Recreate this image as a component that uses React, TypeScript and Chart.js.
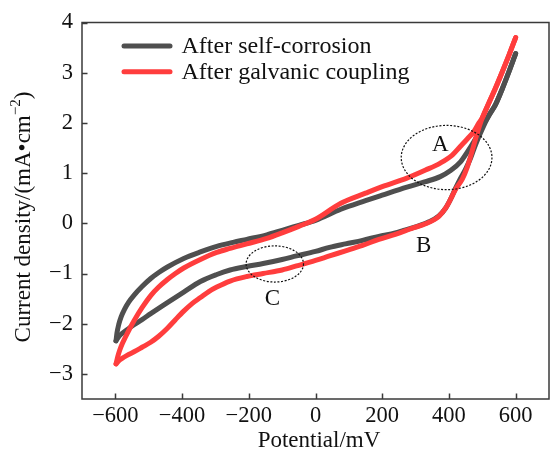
import React, { useEffect, useRef } from "react";
import { Chart, registerables } from "chart.js";

Chart.register(...registerables);

// After self-corrosion: upper branch and lower branch, potential mV -> current density mA/cm2
const selfUpperX = [-598, -595, -590, -583, -573, -560, -545, -520, -494, -470, -444, -395, -345, -296, -247, -206, -146, -100, -50, 0, 76, 150, 200, 274, 330, 374, 405, 434, 455, 475, 500, 520, 540, 560, 580, 600];
const selfUpperY = [-2.34, -2.18, -2.02, -1.87, -1.72, -1.57, -1.44, -1.26, -1.1, -0.98, -0.87, -0.7, -0.57, -0.46, -0.38, -0.32, -0.23, -0.14, -0.04, 0.06, 0.28, 0.45, 0.56, 0.72, 0.83, 0.93, 1.05, 1.22, 1.42, 1.63, 1.93, 2.15, 2.37, 2.68, 3.02, 3.38];
const selfLowerX = [-598, -592, -583, -565, -544, -520, -494, -444, -395, -345, -296, -256, -206, -157, -100, -57, 0, 42, 90, 141, 190, 239, 260, 300, 340, 370, 390, 405, 420, 435, 450, 465, 480, 500, 520, 540, 560, 580, 600];
const selfLowerY = [-2.34, -2.28, -2.21, -2.12, -2.02, -1.92, -1.8, -1.58, -1.37, -1.16, -1.02, -0.93, -0.86, -0.8, -0.72, -0.65, -0.56, -0.48, -0.41, -0.34, -0.26, -0.19, -0.15, -0.07, 0.03, 0.15, 0.3, 0.48, 0.7, 0.9, 1.08, 1.3, 1.57, 1.88, 2.15, 2.37, 2.68, 3.02, 3.38];

// After galvanic coupling
const galvUpperX = [-598, -593, -587, -580, -570, -558, -544, -520, -494, -470, -444, -420, -395, -345, -296, -256, -206, -146, -100, -50, 0, 76, 150, 200, 274, 330, 374, 410, 434, 455, 475, 490, 500, 520, 540, 560, 580, 600];
const galvUpperY = [-2.8, -2.66, -2.53, -2.41, -2.27, -2.11, -1.94, -1.68, -1.44, -1.27, -1.12, -1.0, -0.89, -0.72, -0.58, -0.5, -0.41, -0.3, -0.19, -0.06, 0.08, 0.4, 0.6, 0.73, 0.9, 1.06, 1.2, 1.36, 1.53, 1.68, 1.83, 2.0, 2.1, 2.4, 2.7, 3.02, 3.35, 3.7];
const galvLowerX = [-598, -590, -580, -565, -544, -520, -494, -470, -444, -420, -395, -370, -345, -320, -296, -256, -206, -157, -100, -57, 0, 42, 90, 141, 190, 239, 289, 330, 370, 390, 405, 420, 440, 455, 470, 485, 500, 520, 540, 560, 580, 600];
const galvLowerY = [-2.8, -2.74, -2.69, -2.63, -2.56, -2.47, -2.37, -2.25, -2.09, -1.92, -1.75, -1.6, -1.48, -1.36, -1.27, -1.15, -1.06, -1.0, -0.93, -0.85, -0.74, -0.65, -0.55, -0.44, -0.32, -0.22, -0.1, -0.01, 0.14, 0.3, 0.48, 0.68, 0.88, 1.12, 1.45, 1.8, 2.1, 2.4, 2.7, 3.02, 3.35, 3.7];

const seriesNames = ["After self-corrosion", "After galvanic coupling"];
const seriesColors = ["#4f4f4f", "#ff3d3d"];
const xTicks = [-600, -400, -200, 0, 200, 400, 600];
const yTicks = [-3, -2, -1, 0, 1, 2, 3, 4];
const xTitle = "Potential/mV";
const yTitleMain = "Current density/(mA•cm";
const yTitleSup = "−2";
const yTitleEnd = ")";

// Annotations: [cx, cy, rx, ry] in data units; labels [text, x, y]
const ellipses = [
  [393, 1.31, 136, 0.64],
  [-122, -0.81, 86, 0.36],
];
const pointLabels: [string, number, number][] = [
  ["A", 374, 1.57],
  ["B", 324, -0.45],
  ["C", -129, -1.51],
];

const FONT = "'Liberation Serif', 'Times New Roman', serif";

const decoPlugin = {
  id: "deco",
  afterDatasetsDraw(chart: any) {
    const { ctx, chartArea: a, scales } = chart;
    const xs = scales.x;
    const ys = scales.y;
    ctx.save();
    ctx.strokeStyle = "#3a3a3a";
    ctx.lineWidth = 1.5;
    ctx.strokeRect(a.left, a.top, a.right - a.left, a.bottom - a.top);
    ctx.beginPath();
    xTicks.forEach((v) => {
      const px = Math.round(xs.getPixelForValue(v)) + 0.5;
      ctx.moveTo(px, a.bottom);
      ctx.lineTo(px, a.bottom - 5.5);
    });
    yTicks.forEach((v) => {
      const py = Math.round(ys.getPixelForValue(v)) + 0.5;
      ctx.moveTo(a.left, py);
      ctx.lineTo(a.left + 5.5, py);
    });
    ctx.stroke();
    ctx.strokeStyle = "#111";
    ctx.lineWidth = 1.2;
    ctx.setLineDash([2, 1.6]);
    ellipses.forEach(([cx, cy, rx, ry]) => {
      const px = xs.getPixelForValue(cx);
      const py = ys.getPixelForValue(cy);
      const prx = Math.abs(xs.getPixelForValue(cx + rx) - px);
      const pry = Math.abs(ys.getPixelForValue(cy + ry) - py);
      ctx.beginPath();
      ctx.ellipse(px, py, prx, pry, 0, 0, Math.PI * 2);
      ctx.stroke();
    });
    ctx.setLineDash([]);
    ctx.fillStyle = "#111";
    ctx.font = `23px ${FONT}`;
    ctx.textAlign = "center";
    ctx.textBaseline = "middle";
    pointLabels.forEach(([t, x, y]) => {
      ctx.fillText(t, xs.getPixelForValue(x), ys.getPixelForValue(y));
    });
    ctx.lineCap = "round";
    ctx.font = `24px ${FONT}`;
    ctx.textAlign = "left";
    seriesNames.forEach((n, i) => {
      const y = 46 + i * 25.7;
      ctx.strokeStyle = seriesColors[i];
      ctx.lineWidth = 5;
      ctx.beginPath();
      ctx.moveTo(124, y);
      ctx.lineTo(170, y);
      ctx.stroke();
      ctx.fillStyle = "#111";
      ctx.fillText(n, 181.5, y + 1);
    });
    ctx.font = `23px ${FONT}`;
    ctx.textAlign = "center";
    ctx.fillText(xTitle, 319, 441);
    ctx.translate(24, 217);
    ctx.rotate(-Math.PI / 2);
    ctx.textAlign = "left";
    const mainW = ctx.measureText(yTitleMain).width;
    ctx.font = `15px ${FONT}`;
    const supW = ctx.measureText(yTitleSup).width;
    ctx.font = `23px ${FONT}`;
    const endW = ctx.measureText(yTitleEnd).width;
    const total = mainW + supW + endW;
    let x0 = -total / 2;
    ctx.fillText(yTitleMain, x0, 0);
    x0 += mainW;
    ctx.font = `15px ${FONT}`;
    ctx.fillText(yTitleSup, x0, -8);
    x0 += supW;
    ctx.font = `23px ${FONT}`;
    ctx.fillText(yTitleEnd, x0, 0);
    ctx.restore();
  },
};

export default function App() {
  const ref = useRef<HTMLCanvasElement>(null);
  useEffect(() => {
    const mk = (xa: number[], ya: number[]) => xa.map((x, i) => ({ x, y: ya[i] }));
    const line = (label: string, xa: number[], ya: number[], color: string, order: number) => ({
      label,
      data: mk(xa, ya),
      showLine: true,
      borderColor: color,
      backgroundColor: color,
      borderWidth: 5,
      pointRadius: 0,
      cubicInterpolationMode: "monotone" as const,
      borderCapStyle: "round" as const,
      borderJoinStyle: "round" as const,
      order,
    });
    const chart = new Chart(ref.current!, {
      type: "scatter",
      data: {
        datasets: [
          line(seriesNames[0], selfUpperX, selfUpperY, seriesColors[0], 2),
          line(seriesNames[0], selfLowerX, selfLowerY, seriesColors[0], 2),
          line(seriesNames[1], galvUpperX, galvUpperY, seriesColors[1], 1),
          line(seriesNames[1], galvLowerX, galvLowerY, seriesColors[1], 1),
        ],
      },
      options: {
        responsive: false,
        animation: false,
        layout: { padding: { top: 22, right: 1, left: 0, bottom: 0 } },
        plugins: { legend: { display: false }, tooltip: { enabled: false } },
        scales: {
          x: {
            type: "linear",
            min: -700,
            max: 700,
            grid: { display: false, drawTicks: false },
            border: { display: false },
            afterBuildTicks: (s: any) => {
              s.ticks = xTicks.map((v) => ({ value: v }));
            },
            afterFit: (s: any) => {
              s.height = 54;
            },
            ticks: {
              color: "#111",
              padding: 4,
              maxRotation: 0,
              autoSkip: false,
              font: { family: FONT, size: 22.5 },
              callback: (v: any) => String(v).replace("-", "−"),
            },
          },
          y: {
            type: "linear",
            min: -3.5,
            max: 4,
            grid: { display: false, drawTicks: false },
            border: { display: false },
            afterBuildTicks: (s: any) => {
              s.ticks = yTicks.map((v) => ({ value: v }));
            },
            afterFit: (s: any) => {
              s.width = 82;
            },
            ticks: {
              color: "#111",
              padding: 9,
              autoSkip: false,
              font: { family: FONT, size: 22.5 },
              callback: (v: any) => String(v).replace("-", "−"),
            },
          },
        },
      },
      plugins: [decoPlugin],
    });
    return () => chart.destroy();
  }, []);
  return (
    <div style={{ position: "fixed", left: 0, top: 0, width: 550, height: 453, background: "#fff" }}>
      <canvas ref={ref} width={550} height={453} />
    </div>
  );
}
